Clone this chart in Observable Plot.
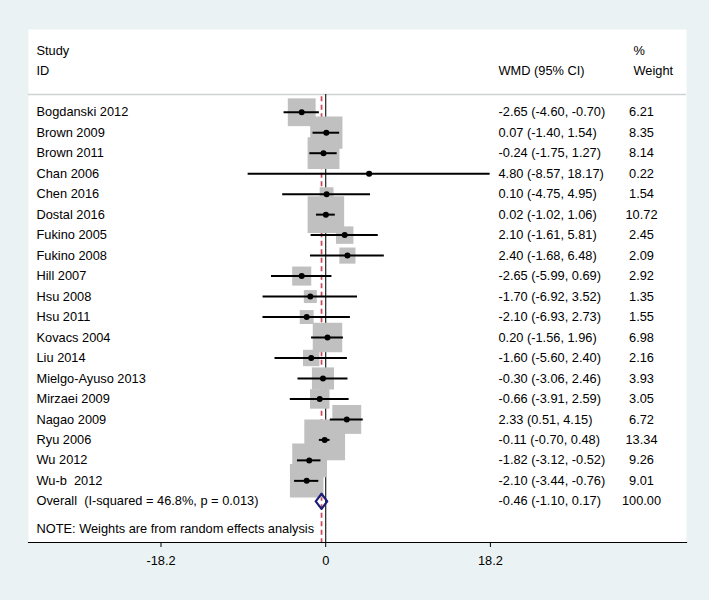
<!DOCTYPE html>
<html>
<head>
<meta charset="utf-8">
<script src="https://cdn.jsdelivr.net/npm/d3@7"></script>
<script src="https://cdn.jsdelivr.net/npm/@observablehq/plot@0.6"></script>
<style>
  html, body { margin: 0; padding: 0; background: #eaf2f3; }
  #chart { width: 709px; height: 600px; }
</style>
</head>
<body>
<div id="chart"></div>
<script>
// ---- Data ----
const studies = ["Bogdanski 2012","Brown 2009","Brown 2011","Chan 2006","Chen 2016","Dostal 2016",
  "Fukino 2005","Fukino 2008","Hill 2007","Hsu 2008","Hsu 2011","Kovacs 2004","Liu 2014",
  "Mielgo-Ayuso 2013","Mirzaei 2009","Nagao 2009","Ryu 2006","Wu 2012","Wu-b  2012"];
const estimates = [-2.65, 0.07, -0.24, 4.80, 0.10, 0.02, 2.10, 2.40, -2.65, -1.70, -2.10, 0.20, -1.60, -0.30, -0.66, 2.33, -0.11, -1.82, -2.10];
const lowers    = [-4.60, -1.40, -1.75, -8.57, -4.75, -1.02, -1.61, -1.68, -5.99, -6.92, -6.93, -1.56, -5.60, -3.06, -3.91, 0.51, -0.70, -3.12, -3.44];
const uppers    = [-0.70, 1.54, 1.27, 18.17, 4.95, 1.06, 5.81, 6.48, 0.69, 3.52, 2.73, 1.96, 2.40, 2.46, 2.59, 4.15, 0.48, -0.52, -0.76];
const weights   = [6.21, 8.35, 8.14, 0.22, 1.54, 10.72, 2.45, 2.09, 2.92, 1.35, 1.55, 6.98, 2.16, 3.93, 3.05, 6.72, 13.34, 9.26, 9.01];

const overallLabel = "Overall  (I-squared = 46.8%, p = 0.013)";
const overallEst = -0.46, overallLo = -1.10, overallHi = 0.17, overallWeight = 100.00;
const noteText = "NOTE: Weights are from random effects analysis";
const headerStudy = ["Study", "ID"];
const headerEffect = "WMD (95% CI)";
const headerWeight = ["%", "Weight"];
const xTicks = [-18.2, 0, 18.2];

// ---- Build table ----
const rows = studies.map((s, i) => ({
  row: i, study: s, est: estimates[i], lo: lowers[i], hi: uppers[i], w: weights[i],
  ci: `${estimates[i].toFixed(2)} (${lowers[i].toFixed(2)}, ${uppers[i].toFixed(2)})`,
  wt: weights[i].toFixed(2)
}));
const overallRow = studies.length;
const noteRow = overallRow + 1.33;
const headerRows = [-3, -2];
const headerLineRow = -0.86;
const yTop = -4.04, yBottom = 21.01;

const diamond = [
  {x: overallLo, y: overallRow},
  {x: overallEst, y: overallRow - 0.37},
  {x: overallHi, y: overallRow},
  {x: overallEst, y: overallRow + 0.37},
  {x: overallLo, y: overallRow}
];

const font = "'Liberation Sans', Arial, sans-serif";
const colRight = -188;  // offset from right frame edge to effect column
const wtCol = -45;

const chart = Plot.plot({
  width: 709,
  height: 600,
  marginLeft: 28,
  marginRight: 23,
  marginTop: 29,
  marginBottom: 58,
  style: {fontFamily: font, fontSize: "12.8px", background: "#eaf2f3", color: "#000"},
  x: {domain: [-32.84, 39.87], axis: null},
  y: {domain: [yBottom, yTop], axis: null},
  r: {type: "sqrt", domain: [0, 13.34], range: [0, 23]},
  marks: [
    Plot.frame({fill: "white", stroke: null}),
    Plot.ruleY([headerLineRow], {stroke: "#cfd2d2", strokeWidth: 1.5}),
    Plot.ruleX([0], {y1: headerLineRow, y2: yBottom, stroke: "#222", strokeWidth: 1.2}),
    Plot.ruleX([overallEst], {y1: headerLineRow + 0.1, y2: yBottom, stroke: "#c8485a", strokeWidth: 1.7, strokeDasharray: "5,3.5"}),
    Plot.dot(rows, {x: "est", y: "row", r: "w", symbol: "square", fill: "#c0c0c0", stroke: null}),
    Plot.ruleY(rows, {y: "row", x1: "lo", x2: "hi", stroke: "#000", strokeWidth: 2}),
    Plot.dot(rows, {x: "est", y: "row", r: 3, fill: "#000", stroke: null}),
    Plot.line(diamond, {x: "x", y: "y", stroke: "#1b1f7a", strokeWidth: 2.2, fill: "none"}),
    // text columns
    Plot.text(rows, {y: "row", text: "study", frameAnchor: "left", dx: 8, textAnchor: "start"}),
    Plot.text(rows, {y: "row", text: "ci", frameAnchor: "right", dx: colRight, textAnchor: "start"}),
    Plot.text(rows, {y: "row", text: "wt", frameAnchor: "right", dx: wtCol, textAnchor: "middle"}),
    Plot.text([overallLabel], {y: overallRow, text: d => d, frameAnchor: "left", dx: 8, textAnchor: "start"}),
    Plot.text([`${overallEst.toFixed(2)} (${overallLo.toFixed(2)}, ${overallHi.toFixed(2)})`], {y: overallRow, text: d => d, frameAnchor: "right", dx: colRight, textAnchor: "start"}),
    Plot.text([overallWeight.toFixed(2)], {y: overallRow, text: d => d, frameAnchor: "right", dx: wtCol, textAnchor: "middle"}),
    Plot.text([noteText], {y: noteRow, text: d => d, frameAnchor: "left", dx: 8, textAnchor: "start"}),
    // headers
    Plot.text(headerStudy, {y: (d, i) => headerRows[i], text: d => d, frameAnchor: "left", dx: 8, textAnchor: "start"}),
    Plot.text([headerEffect], {y: headerRows[1], text: d => d, frameAnchor: "right", dx: colRight, textAnchor: "start"}),
    Plot.text(headerWeight, {y: (d, i) => headerRows[i], text: d => d, frameAnchor: "right", dx: -53, textAnchor: "start"}),
    // axis
    Plot.frame({anchor: "bottom", stroke: "#000", strokeWidth: 1.2}),
    Plot.axisX(xTicks, {tickSize: 5, tickPadding: 8, tickFormat: d => d === 0 ? "0" : String(d), fontSize: 12.8, stroke: "#000", color: "#000"})
  ]
});
document.getElementById("chart").appendChild(chart);
</script>
</body>
</html>
